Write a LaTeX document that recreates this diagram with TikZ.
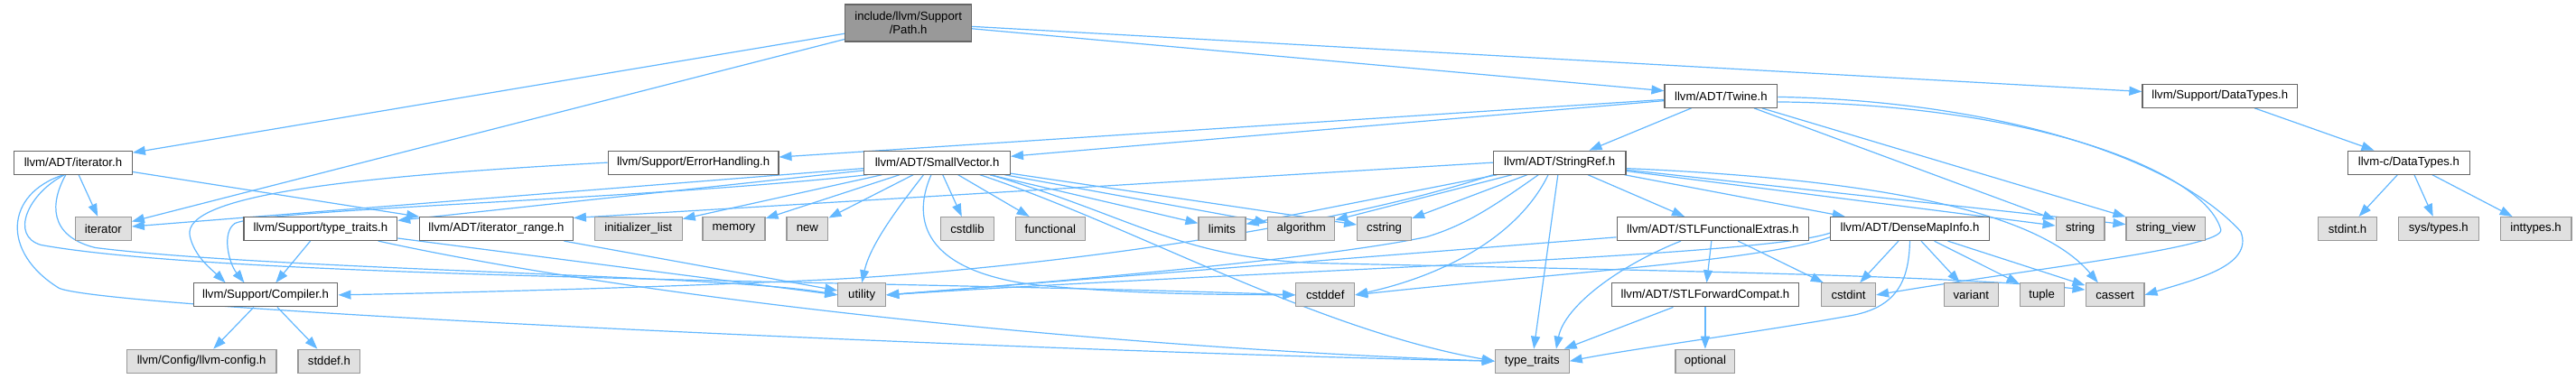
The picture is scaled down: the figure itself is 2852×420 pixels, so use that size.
\documentclass[tikz,border=0pt]{standalone}
\usepackage{fontspec}
\setmainfont{Liberation Sans}
\usetikzlibrary{arrows.meta}
\definecolor{edgec}{HTML}{63B8FF}
\definecolor{gfill}{HTML}{E0E0E0}
\definecolor{gdraw}{HTML}{999999}
\definecolor{wdraw}{HTML}{666666}
\pgfdeclarelayer{back}
\pgfdeclarelayer{edges}
\pgfsetlayers{back,edges,main}
\begin{document}
\begin{tikzpicture}[x=0.5pt,y=-0.5pt,
 base/.style={rectangle, inner sep=0pt, minimum height=13pt, line width=0.6pt, font=\fontsize{6.6}{7.6}\selectfont, text=black},
 wnode/.style={base, draw=wdraw, fill=white},
 gnode/.style={base, draw=gdraw, fill=gfill},
 rootnode/.style={base, draw=wdraw, fill=gdraw, minimum height=20.5pt, align=center},
 e/.style={draw=edgec, line width=0.6pt, -{Triangle[length=7pt,width=5pt]}}]
\begin{pgfonlayer}{back}
\path[use as bounding box, fill=white] (0,0) rectangle (2852,420);
\end{pgfonlayer}
% nodes
\node[rootnode, minimum width=70pt] (path) at (1002,25.5) {include/llvm/Support\\/Path.h};
\node[wnode, minimum width=62.5pt] (twine) at (1903.5,106.5) {llvm/ADT/Twine.h};
\node[wnode, minimum width=86pt] (sdt) at (2457,106.5) {llvm/Support/DataTypes.h};
\node[wnode, minimum width=65.5pt] (iterh) at (75.5,180.5) {llvm/ADT/iterator.h};
\node[wnode, minimum width=94.5pt] (errh) at (763.5,180.5) {llvm/Support/ErrorHandling.h};
\node[wnode, minimum width=81pt] (svec) at (1034,180.5) {llvm/ADT/SmallVector.h};
\node[wnode, minimum width=73.5pt] (sref) at (1724.5,180.5) {llvm/ADT/StringRef.h};
\node[wnode, minimum width=67.5pt] (cdt) at (2666.5,180.5) {llvm-c/DataTypes.h};
\node[gnode, minimum width=31pt] (iter) at (109,254) {iterator};
\node[wnode, minimum width=85pt] (stt) at (350,254) {llvm/Support/type\_traits.h};
\node[wnode, minimum width=85pt] (irange) at (545,254) {llvm/ADT/iterator\_range.h};
\node[gnode, minimum width=48.5pt] (initl) at (702.5,254) {initializer\_list};
\node[gnode, minimum width=34.5pt] (memory) at (808.5,254) {memory};
\node[gnode, minimum width=23pt] (new) at (890,254) {new};
\node[gnode, minimum width=29.5pt] (cstdlib) at (1067.5,254) {cstdlib};
\node[gnode, minimum width=38.5pt] (functional) at (1159.5,254) {functional};
\node[gnode, minimum width=26pt] (limits) at (1350,254) {limits};
\node[gnode, minimum width=37pt] (algorithm) at (1438,254) {algorithm};
\node[gnode, minimum width=30pt] (cstring) at (1530,254) {cstring};
\node[wnode, minimum width=106.5pt] (stlfe) at (1894.5,254) {llvm/ADT/STLFunctionalExtras.h};
\node[wnode, minimum width=88pt] (dmi) at (2113,254) {llvm/ADT/DenseMapInfo.h};
\node[gnode, minimum width=27pt] (string) at (2302,254) {string};
\node[gnode, minimum width=44pt] (sview) at (2397,254) {string\_view};
\node[gnode, minimum width=32.5pt] (stdinth) at (2598.5,254) {stdint.h};
\node[gnode, minimum width=44.5pt] (systypes) at (2699.5,254) {sys/types.h};
\node[gnode, minimum width=39.5pt] (inttypes) at (2807.5,254) {inttypes.h};
\node[wnode, minimum width=80pt] (compiler) at (289,327.5) {llvm/Support/Compiler.h};
\node[gnode, minimum width=26.5pt] (utility) at (950.5,327.5) {utility};
\node[gnode, minimum width=32.5pt] (cstddef) at (1464.5,327.5) {cstddef};
\node[wnode, minimum width=104pt] (stlfc) at (1886,327.5) {llvm/ADT/STLForwardCompat.h};
\node[gnode, minimum width=30pt] (cstdint) at (2045,327.5) {cstdint};
\node[gnode, minimum width=30pt] (variant) at (2181,327.5) {variant};
\node[gnode, minimum width=24.5pt] (tuple) at (2259.5,327.5) {tuple};
\node[gnode, minimum width=32.5pt] (cassert) at (2340.5,327.5) {cassert};
\node[gnode, minimum width=83pt] (llvmconfig) at (218,401) {llvm/Config/llvm-config.h};
\node[gnode, minimum width=34.5pt] (stddefh) at (359.5,401) {stddef.h};
\node[gnode, minimum width=41pt] (typetraits) at (1694,401) {type\_traits};
\node[gnode, minimum width=33pt] (optional) at (1886,401) {optional};
% edges
\begin{pgfonlayer}{edges}
\draw[e] (path) -- (iterh);
\draw[e] (path) -- (iter);
\draw[e] (path) -- (twine);
\draw[e] (path) -- (sdt);
\draw[e] (twine) -- (errh);
\draw[e] (twine) -- (svec);
\draw[e] (twine) -- (sref);
\draw[e] (twine) -- (string);
\draw[e] (twine) -- (sview);
\draw[e] (twine.-6) .. controls (2250,116) and (2440,190) .. (2458,255) .. controls (2462,275) and (2250,298) .. (cstdint.east);
\draw[e] (twine.-1) .. controls (2200,112) and (2400,170) .. (2480,257) .. controls (2495,295) and (2430,310) .. (cassert.east);
\draw[e] (sdt) -- (cdt);
\draw[e] (cdt) -- (stdinth);
\draw[e] (cdt) -- (systypes);
\draw[e] (cdt) -- (inttypes);
\draw[e] (iterh) -- (iter);
\draw[e] (iterh) -- (irange);
\draw[e] (iterh.-121) .. controls (50,225) and (48,262) .. (100,275) .. controls (300,300) and (800,305) .. (utility.west);
\draw[e] (iterh.-125) .. controls (25,215) and (5,262) .. (40,272) .. controls (250,310) and (1000,312) .. (cstddef.west);
\draw[e] (iterh.-128) .. controls (0,215) and (-5,280) .. (60,320) .. controls (120,345) and (1200,392) .. (typetraits.west);
\draw[e] (errh.west) .. controls (400,195) and (195,215) .. (205,262) .. controls (210,285) and (230,300) .. (compiler.163);
\draw[e] (svec) -- (iter);
\draw[e] (svec.-170) .. controls (700,222) and (290,232) .. (255,248) .. controls (240,258) and (248,292) .. (compiler.150);
\draw[e] (svec) -- (stt);
\draw[e] (svec) -- (initl);
\draw[e] (svec) -- (memory);
\draw[e] (svec) -- (new);
\draw[e] (svec) -- (cstdlib);
\draw[e] (svec) -- (functional);
\draw[e] (svec) -- (limits);
\draw[e] (svec) -- (algorithm);
\draw[e] (svec) -- (cstring);
\draw[e] (svec.-138) .. controls (995,225) and (960,270) .. (utility.north);
\draw[e] (svec.-116) .. controls (1005,245) and (1020,300) .. (1140,316) .. controls (1250,327) and (1350,327) .. (cstddef.west);
\draw[e] (svec.-16) .. controls (1250,250) and (1450,365) .. (typetraits.west);
\draw[e] (svec.-13) .. controls (1250,240) and (1300,285) .. (1450,292) .. controls (1800,300) and (2150,305) .. (cassert.170);
\draw[e] (sref.west) -- (irange.8);
\draw[e] (sref.south west) .. controls (1450,260) and (1100,302) .. (900,311) .. controls (700,320) and (500,325) .. (compiler.east);
\draw[e] (sref) -- (limits);
\draw[e] (sref) -- (algorithm);
\draw[e] (sref) -- (cstring);
\draw[e] (sref.-150) .. controls (1650,230) and (1620,250) .. (1577,263) .. controls (1450,290) and (1100,318) .. (utility.east);
\draw[e] (sref.-133) .. controls (1680,260) and (1600,305) .. (cstddef.east);
\draw[e] (sref) -- (typetraits);
\draw[e] (sref) -- (stlfe);
\draw[e] (sref) -- (dmi);
\draw[e] (sref) -- (string);
\draw[e] (sref) -- (sview);
\draw[e] (sref.-5) .. controls (2100,200) and (2260,240) .. (cassert.144);
\draw[e] (stt) -- (compiler);
\draw[e] (stt.-7) -- (utility.west);
\draw[e] (stt.-12) .. controls (700,330) and (1200,385) .. (typetraits.west);
\draw[e] (irange) -- (utility);
\draw[e] (stlfe.-175) -- (utility.east);
\draw[e] (stlfe) -- (stlfc);
\draw[e] (stlfe) -- (cstdint);
\draw[e] (stlfe.-159) .. controls (1790,295) and (1730,340) .. (typetraits.27);
\draw[e] (stlfc) -- (typetraits);
\draw[e] (stlfc) -- (optional);
\draw[e] (dmi.-177) .. controls (1950,285) and (1400,300) .. (utility.east);
\draw[e] (dmi.-174) .. controls (1950,290) and (1700,305) .. (cstddef.east);
\draw[e] (dmi) -- (cstdint);
\draw[e] (dmi) -- (variant);
\draw[e] (dmi) -- (tuple);
\draw[e] (dmi) -- (cassert);
\draw[e] (dmi.south) .. controls (2112,310) and (2100,340) .. (2050,350) .. controls (1950,368) and (1800,388) .. (typetraits.east);
\draw[e] (compiler) -- (llvmconfig);
\draw[e] (compiler) -- (stddefh);
\end{pgfonlayer}
\end{tikzpicture}
\end{document}
